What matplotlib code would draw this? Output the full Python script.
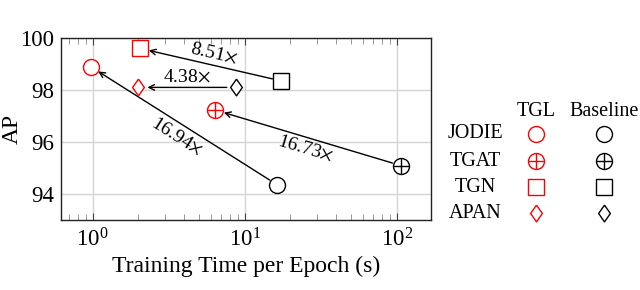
import numpy as np
import matplotlib
matplotlib.use("Agg")
import matplotlib.pyplot as plt
from matplotlib.ticker import LogLocator, FixedLocator, NullFormatter

plt.rcParams['font.family'] = ['Liberation Serif', 'DejaVu Serif']
plt.rcParams['mathtext.fontset'] = 'stix'

# data
models = ["JODIE", "TGAT", "TGN", "APAN"]
tgl_time = [0.97, 6.4, 2.05, 2.0]
tgl_ap = [98.9, 97.23, 99.6, 98.1]
base_time = [16.4, 107.0, 17.4, 8.75]
base_ap = [94.35, 95.09, 98.35, 98.1]
speedup = ["16.94", "16.73", "8.51", "4.38"]
# label anchor (data coords) for each speedup text
label_x = [3.58, 25.0, 6.24, 4.17]
label_y = [96.2, 95.76, 99.41, 98.51]
markers = ["o", "oplus", "s", "d"]

fig = plt.figure(figsize=(6.4, 2.9), dpi=100)
ax = fig.add_axes([61 / 640, 1 - 220 / 290, 370 / 640, 182 / 290])
ax.set_xscale("log")
ax.set_xlim(0.62, 168)
ax.set_ylim(93, 100)
ax.set_yticks([94, 96, 98, 100])
ax.xaxis.set_major_locator(FixedLocator([1, 10, 100]))
ax.xaxis.set_minor_locator(LogLocator(base=10, subs=np.arange(2, 10)))
ax.xaxis.set_minor_formatter(NullFormatter())
ax.grid(True, which="major", color="#d4d4d4", linewidth=1.0)
ax.set_axisbelow(True)
ax.tick_params(axis="both", which="both", direction="in", top=True, right=True,
               labelsize=16.5, color="#444444")
ax.tick_params(axis="x", which="major", length=5, pad=6)
ax.tick_params(axis="x", which="minor", length=4, width=0.6, color="#888888")
ax.tick_params(axis="y", which="major", length=0, pad=5)
for sp in ax.spines.values():
    sp.set_linewidth(1.0)
    sp.set_color("#222222")
ax.set_xlabel("Training Time per Epoch (s)", fontsize=17, labelpad=3)
ax.set_ylabel("AP", fontsize=17)
ax.yaxis.set_label_coords(-0.104, 0.5)

ms = 11.5
mew = 1.0
diamond = [(0, 1), (0.7, 0), (0, -1), (-0.7, 0), (0, 1)]


def draw_marker(a, x, y, kind, color, **kw):
    if kind == "oplus":
        a.plot([x], [y], "o", ms=ms, mfc="white", mec=color, mew=mew, **kw)
        a.plot([x], [y], "+", ms=ms, mec=color, mew=mew, **kw)
    elif kind == "d":
        a.plot([x], [y], marker=diamond, ms=ms * 1.05, mfc="white", mec=color, mew=mew, **kw)
    elif kind == "s":
        a.plot([x], [y], "s", ms=ms * 0.98, mfc="white", mec=color, mew=mew, **kw)
    else:
        a.plot([x], [y], "o", ms=ms, mfc="white", mec=color, mew=mew, **kw)


for i in range(len(models)):
    ax.annotate("", xy=(tgl_time[i], tgl_ap[i]), xytext=(base_time[i], base_ap[i]),
                arrowprops=dict(arrowstyle="->", color="black", lw=1.0,
                                shrinkA=6.5, shrinkB=6.5, mutation_scale=10),
                zorder=3)
    draw_marker(ax, base_time[i], base_ap[i], markers[i], "black", zorder=4, clip_on=False)
    draw_marker(ax, tgl_time[i], tgl_ap[i], markers[i], "red", zorder=4, clip_on=False)
    p0 = ax.transData.transform((tgl_time[i], tgl_ap[i]))
    p1 = ax.transData.transform((base_time[i], base_ap[i]))
    ang = np.degrees(np.arctan2(p1[1] - p0[1], p1[0] - p0[0]))
    ax.text(label_x[i], label_y[i], speedup[i] + r"$\times$", fontsize=14, rotation=ang,
            rotation_mode="anchor", ha="center", va="center", zorder=5)

# legend table on the right, in pixel coordinates of the figure
lax = fig.add_axes([0, 0, 1, 1])
lax.set_xlim(0, 640)
lax.set_ylim(290, 0)
lax.axis("off")
lax.text(536, 111, "TGL", fontsize=14.5, ha="center", va="center")
lax.text(604, 111, "Baseline", fontsize=14.5, ha="center", va="center")
row_y = [134, 161, 187, 213]
for i, name in enumerate(models):
    lax.text(475, row_y[i], name, fontsize=14.5, ha="center", va="center")
    draw_marker(lax, 536, row_y[i], markers[i], "red")
    draw_marker(lax, 604, row_y[i], markers[i], "black")

fig.savefig("out.png", dpi=100)
